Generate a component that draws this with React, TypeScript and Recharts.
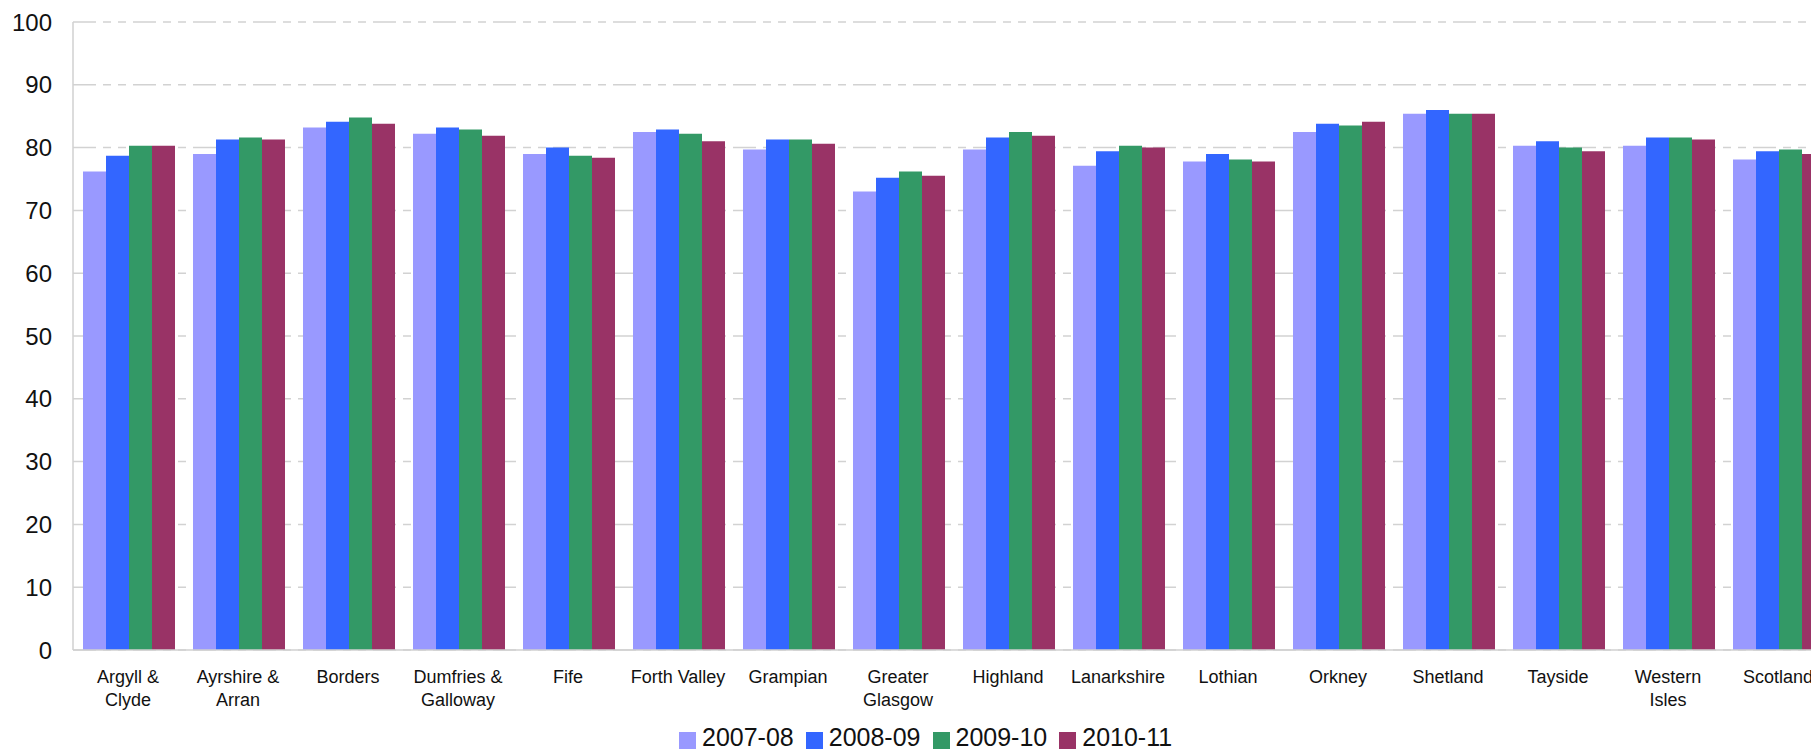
import React from "react";
import { BarChart, Bar, XAxis, YAxis, CartesianGrid, Legend } from "recharts";

const categories = [
  "Argyll &\nClyde",
  "Ayrshire &\nArran",
  "Borders",
  "Dumfries &\nGalloway",
  "Fife",
  "Forth Valley",
  "Grampian",
  "Greater\nGlasgow",
  "Highland",
  "Lanarkshire",
  "Lothian",
  "Orkney",
  "Shetland",
  "Tayside",
  "Western\nIsles",
  "Scotland",
];

const v2007 = [76.2, 79.0, 83.2, 82.2, 79.0, 82.5, 79.7, 73.0, 79.7, 77.1, 77.8, 82.5, 85.4, 80.3, 80.3, 78.1];
const v2008 = [78.7, 81.3, 84.1, 83.2, 80.0, 82.9, 81.3, 75.2, 81.6, 79.4, 79.0, 83.8, 86.0, 81.0, 81.6, 79.4];
const v2009 = [80.3, 81.6, 84.8, 82.9, 78.7, 82.2, 81.3, 76.2, 82.5, 80.3, 78.1, 83.5, 85.4, 80.0, 81.6, 79.7];
const v2010 = [80.3, 81.3, 83.8, 81.9, 78.4, 81.0, 80.6, 75.5, 81.9, 80.0, 77.8, 84.1, 85.4, 79.4, 81.3, 79.0];

const seriesNames = ["2007-08", "2008-09", "2009-10", "2010-11"];
const seriesColors = ["#9999FF", "#3366FF", "#339966", "#993366"];
const yTicks = [0, 10, 20, 30, 40, 50, 60, 70, 80, 90, 100];

const data = categories.map((c, i) => ({
  name: c,
  s0: v2007[i],
  s1: v2008[i],
  s2: v2009[i],
  s3: v2010[i],
}));

const FONT = "'Liberation Sans', Arial, sans-serif";

const XTick = (props: any) => {
  const { x, y, payload } = props;
  const lines = String(payload.value).split("\n");
  return (
    <text x={x} y={y} textAnchor="middle" fontSize={18} fill="#111" fontFamily={FONT}>
      {lines.map((l, i) => (
        <tspan key={i} x={x} y={y + 33 + i * 23}>
          {l}
        </tspan>
      ))}
    </text>
  );
};

const LegendContent = (props: any) => {
  const payload = props.payload || [];
  return (
    <div
      style={{
        display: "flex",
        alignItems: "flex-start",
        height: 30,
        paddingLeft: 671,
        fontFamily: FONT,
        fontSize: 25,
        lineHeight: "30px",
        color: "#111",
      }}
    >
      {payload.map((p: any, i: number) => (
        <div key={i} style={{ display: "flex", alignItems: "flex-start", marginRight: 12 }}>
          <div style={{ width: 17, height: 17, background: p.color, marginTop: 10, marginRight: 6 }} />
          <span>{p.value}</span>
        </div>
      ))}
    </div>
  );
};

export default function App() {
  return (
    <div
      style={{
        position: "fixed",
        top: 8,
        left: 8,
        width: 1803,
        height: 741,
        overflow: "hidden",
        background: "#fff",
      }}
    >
      <BarChart
        width={1830}
        height={750}
        data={data}
        margin={{ top: 14, right: 5, bottom: 24, left: 0 }}
        barCategoryGap={10}
        barGap={0}
      >
        <CartesianGrid
          vertical={false}
          stroke="#d2d2d2"
          strokeWidth={1.5}
          strokeDasharray="23 7 8 7 8 7"
        />
        <XAxis
          dataKey="name"
          interval={0}
          height={54}
          tickLine={false}
          tickSize={0}
          tickMargin={0}
          axisLine={{ stroke: "#d0d0d0", strokeWidth: 1.5 }}
          tick={<XTick />}
        />
        <YAxis
          width={65}
          domain={[0, 100]}
          ticks={yTicks}
          interval={0}
          tickLine={false}
          tickSize={0}
          tickMargin={21}
          axisLine={{ stroke: "#d0d0d0", strokeWidth: 1.5 }}
          tick={{ fontSize: 24, fill: "#111", fontFamily: FONT }}
        />
        <Legend
          verticalAlign="bottom"
          content={<LegendContent />}
          wrapperStyle={{ top: 714, left: 0, bottom: "auto", width: 1830, height: 30 }}
        />
        {seriesNames.map((n, i) => (
          <Bar key={n} dataKey={`s${i}`} name={n} fill={seriesColors[i]} isAnimationActive={false} />
        ))}
      </BarChart>
    </div>
  );
}
